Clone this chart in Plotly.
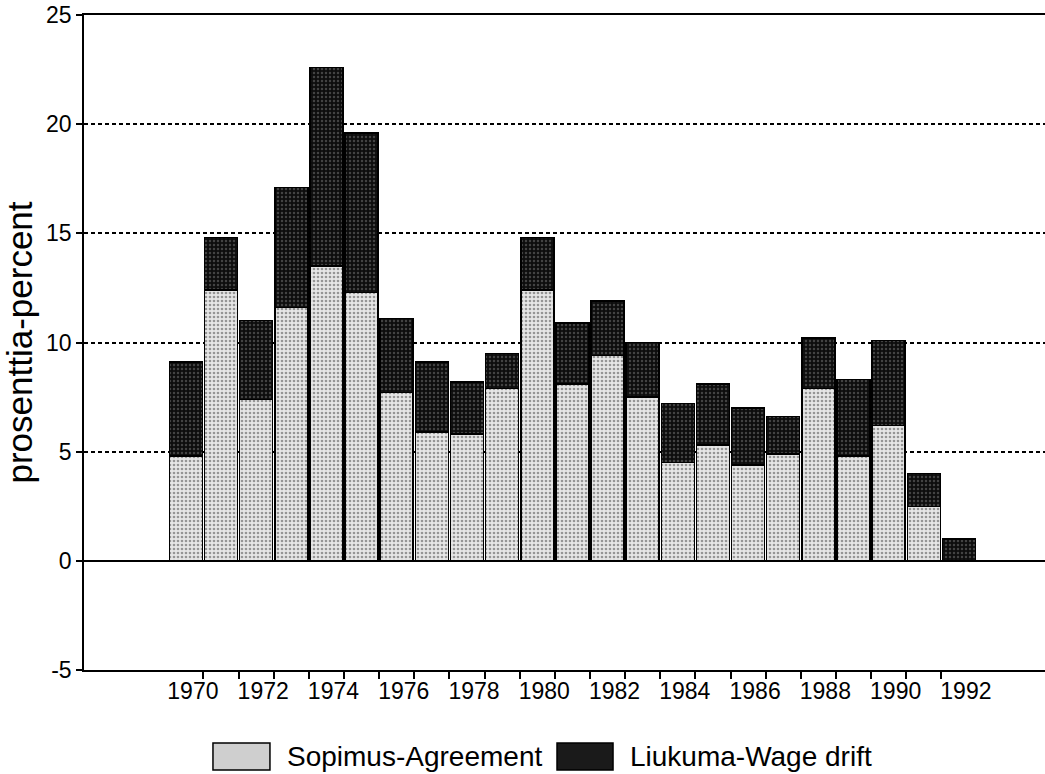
import plotly.graph_objects as go

FONT = "Liberation Sans, Arial, sans-serif"

years = list(range(1970, 1993))
agreement = [4.8, 12.4, 7.4, 11.6, 13.5, 12.3, 7.7, 5.9, 5.8, 7.9, 12.4, 8.1, 9.4,
             7.5, 4.5, 5.3, 4.4, 4.9, 7.9, 4.8, 6.2, 2.5, 0.0]
drift = [4.3, 2.4, 3.6, 5.5, 9.1, 7.3, 3.4, 3.2, 2.4, 1.6, 2.4, 2.8, 2.5,
         2.5, 2.7, 2.8, 2.6, 1.7, 2.3, 3.5, 3.9, 1.5, 1.0]
label_years = list(range(1970, 1993, 2))
tick_years = [y + 0.5 for y in range(1970, 1992)]
y_ticks = [-5, 0, 5, 10, 15, 20, 25]
y_ticktext = ["-5", "0", "5", "10", "15", "20", "25"]
series_names = ["Sopimus-Agreement", "Liukuma-Wage drift"]

LIGHT = dict(bgcolor="#e6e6e6", fgcolor="#444444", shape=".", size=4, solidity=0.35)
DARK = dict(bgcolor="#0d0d0d", fgcolor="#777777", shape=".", size=4, solidity=0.3)

fig = go.Figure()
fig.add_trace(go.Bar(
    x=years, y=agreement, name=series_names[0],
    marker=dict(color="white", line=dict(color="black", width=1.5), pattern=LIGHT),
))
fig.add_trace(go.Bar(
    x=years, y=drift, name=series_names[1],
    marker=dict(color="black", line=dict(color="black", width=1.5), pattern=DARK),
))

# legend drawn by hand below the plot: large boxes like the printed original
legend_items = [
    (0.1342, 0.1935, 0.2092, "#cfcfcf", series_names[0]),
    (0.4922, 0.5505, 0.5661, "#1a1a1a", series_names[1]),
]
for x0, x1, tx, fill, text in legend_items:
    fig.add_shape(type="rect", xref="paper", yref="paper", x0=x0, x1=x1,
                  y0=-0.1527, y1=-0.1115, fillcolor=fill,
                  line=dict(color="black", width=1.5))
    fig.add_annotation(xref="paper", yref="paper", x=tx, y=-0.1328, text=text,
                       showarrow=False, xanchor="left", yanchor="middle",
                       font=dict(size=28))

fig.update_layout(
    barmode="stack",
    bargap=0.06,
    width=1045,
    height=774,
    margin=dict(l=84, r=0, t=15, b=104),
    paper_bgcolor="white",
    plot_bgcolor="white",
    font=dict(family=FONT, size=23, color="black"),
    showlegend=False,
)
fig.update_xaxes(
    range=[1967.1, 1994.45],
    tickvals=label_years,
    ticktext=[str(y) for y in label_years],
    ticks="",
    ticklabelshift=7,
    automargin=False,
    showgrid=False,
    zeroline=False,
    showline=True, linecolor="black", linewidth=1.5, mirror=True,
    minor=dict(tickvals=tick_years, ticks="outside", ticklen=7, tickwidth=1.5,
               tickcolor="black", showgrid=False),
    tickfont=dict(size=23),
)
fig.update_yaxes(
    range=[-5, 25],
    tickvals=y_ticks,
    ticktext=y_ticktext,
    automargin=False,
    ticks="outside", ticklen=6, tickwidth=1.5, tickcolor="black",
    showline=True, linecolor="black", linewidth=1.5,
    showgrid=True, gridcolor="black", gridwidth=1.5, griddash="4px,3px",
    zeroline=True, zerolinecolor="black", zerolinewidth=1.5,
    title=dict(text="prosenttia-percent", font=dict(size=35), standoff=8),
    tickfont=dict(size=23),
)

# the page's default body margin would push the figure 8px off the window
fig.write_html("out.html", config={"displayModeBar": False},
               post_script="document.body.style.margin='0';")
